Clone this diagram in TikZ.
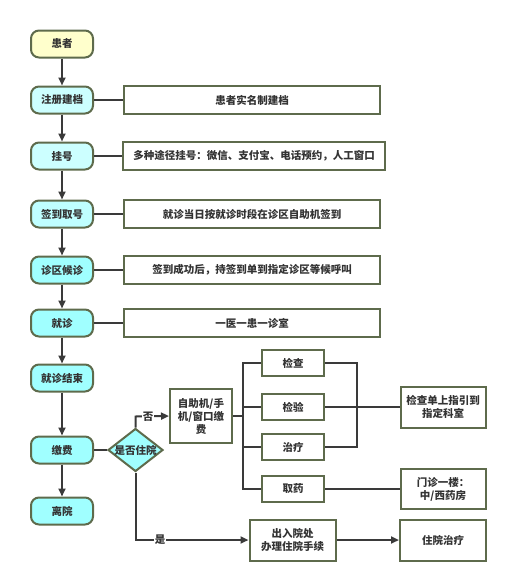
\documentclass[tikz,border=0pt]{standalone}
\usepackage{fontspec}
\newfontfamily\cjk{Noto Sans CJK SC}
\usetikzlibrary{arrows.meta,shapes.geometric}
\definecolor{bord}{RGB}{94,107,76}
\definecolor{lnk}{RGB}{58,58,58}
\definecolor{ylw}{RGB}{255,255,204}
\definecolor{cyl}{RGB}{204,255,255}
\definecolor{cyd}{RGB}{160,255,255}
\tikzset{
  every node/.style={font=\cjk\bfseries\fontsize{10.5}{13}\selectfont, text=black!80},
  pill/.style={draw=bord, line width=2pt, rounded corners=8pt, minimum width=62pt, minimum height=27pt, inner sep=0pt, align=center},
  rbox/.style={draw=bord, line width=2pt, fill=white, minimum height=28pt, inner sep=0pt, align=center},
  sbox/.style={draw=bord, line width=2pt, fill=white, inner sep=0pt, align=center},
  conn/.style={draw=lnk, line width=2pt},
  arr/.style={conn, -{Triangle[length=8pt,width=7pt]}},
  lab/.style={fill=white, inner sep=1pt}
}
\begin{document}
\begin{tikzpicture}[x=1pt,y=-1pt]
\useasboundingbox (0,0) rectangle (507,581);
% left column
\node[pill, fill=ylw] (p0) at (62,44) {患者};
\node[pill, fill=cyl] (l1) at (62,100) {注册建档};
\node[pill, fill=cyl] (l2) at (62,156) {挂号};
\node[pill, fill=cyl!70!cyd] (l3) at (62,214) {签到取号};
\node[pill, fill=cyd] (l4) at (62,270) {诊区候诊};
\node[pill, fill=cyd] (l5) at (62,323) {就诊};
\node[pill, fill=cyd] (l6) at (62,378) {就诊结束};
\node[pill, fill=cyd] (l7) at (62,450) {缴费};
\node[pill, fill=cyd] (l8) at (62,511) {离院};
% right description boxes
\node[rbox, minimum width=256pt] (r1) at (252,100) {患者实名制建档};
\node[rbox, minimum width=262pt] (r2) at (254,156) {多种途径挂号：微信、支付宝、电话预约，人工窗口};
\node[rbox, minimum width=256pt] (r3) at (252,214) {就诊当日按就诊时段在诊区自助机签到};
\node[rbox, minimum width=256pt] (r4) at (252,270) {签到成功后，持签到单到指定诊区等候呼叫};
\node[rbox, minimum width=256pt] (r5) at (252,323) {一医一患一诊室};
% vertical arrows
\draw[arr] (p0) -- (l1);
\draw[arr] (l1) -- (l2);
\draw[arr] (l2) -- (l3);
\draw[arr] (l3) -- (l4);
\draw[arr] (l4) -- (l5);
\draw[arr] (l5) -- (l6);
\draw[arr] (l6) -- (l7);
\draw[arr] (l7) -- (l8);
% horizontal links
\draw[conn] (l1) -- (r1);
\draw[conn] (l2) -- (r2);
\draw[conn] (l3) -- (r3);
\draw[conn] (l4) -- (r4);
\draw[conn] (l5) -- (r5);
% decision
\node[diamond, draw=bord, line width=2pt, fill=cyd, minimum width=55pt, minimum height=43pt, inner sep=0pt] (d) at (135.5,450) {};
\node at (d.center) {是否住院};
\draw[conn] (l7) -- (d);
% payment
\node[sbox, minimum width=62pt, minimum height=54pt] (b) at (201,416) {自助机/手\\机/窗口缴\\费};
\coordinate (dn) at (135.5,416.5);
\draw[arr] (d.north) -- (dn) -- (b.west);
\node[lab] at (148,416.5) {否};
% services
\node[sbox, minimum width=62pt, minimum height=26pt] (c1) at (293,363) {检查};
\node[sbox, minimum width=62pt, minimum height=26pt] (c2) at (293,407) {检验};
\node[sbox, minimum width=62pt, minimum height=26pt] (c3) at (293,447) {治疗};
\node[sbox, minimum width=62pt, minimum height=26pt] (c4) at (293,489) {取药};
\coordinate (bt) at (243,363);
\coordinate (bb) at (243,489);
\draw[conn] (c1.west) -- (bt) -- (bb) -- (c4.west);
\draw[conn] (c2.west) -- (c2.west -| bt);
\draw[conn] (c3.west) -- (c3.west -| bt);
\draw[conn] (b.east) -- (b.east -| bt);
\node[sbox, minimum width=85pt, minimum height=41pt] (e1) at (443,407) {检查单上指引到\\指定科室};
\node[sbox, minimum width=85pt, minimum height=40pt] (e2) at (443,489) {门诊一楼：\\中/西药房};
\coordinate (rt) at (357,363);
\coordinate (rb) at (357,447);
\draw[conn] (c1.east) -- (rt) -- (rb) -- (c3.east);
\draw[conn] (c2.east) -- (e1.west);
\draw[conn] (c4.east) -- (e2.west);
% hospitalisation
\node[sbox, minimum width=86pt, minimum height=41pt] (h1) at (292.5,540) {出入院处\\办理住院手续};
\node[sbox, minimum width=86pt, minimum height=41pt] (h2) at (443,540) {住院治疗};
\coordinate (ds) at (135.5,540);
\draw[arr] (d.south) -- (ds) -- (h1.west);
\node[lab] at (160,540) {是};
\draw[arr] (h1) -- (h2);
\end{tikzpicture}
\end{document}
